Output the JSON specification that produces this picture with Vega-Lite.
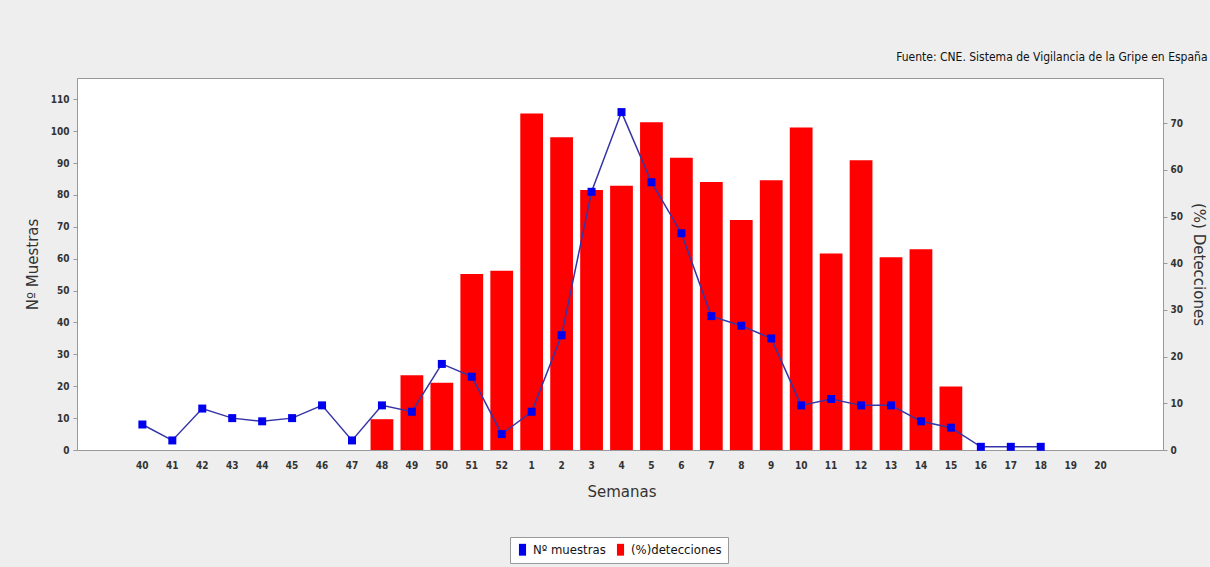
{
  "$schema": "https://vega.github.io/schema/vega-lite/v6.json",
  "width": 1086,
  "height": 372,
  "autosize": {"type": "none"},
  "padding": {"left": 77, "top": 78, "right": 47, "bottom": 117},
  "background": "#eeeeee",
  "title": {
    "text": "Fuente: CNE. Sistema de Vigilancia de la Gripe en España",
    "anchor": "end",
    "frame": "bounds",
    "dx": 2,
    "offset": 14,
    "fontSize": 12,
    "font": "DejaVu Sans Condensed",
    "fontWeight": "normal",
    "color": "#111111"
  },
  "config": {
    "view": {"stroke": "#999999", "fill": "white"},
    "axis": {
      "labelFont": "DejaVu Sans Condensed",
      "labelFontSize": 10,
      "labelFontWeight": "bold",
      "labelColor": "#333333",
      "titleFont": "DejaVu Sans",
      "titleFontSize": 15,
      "titleFontWeight": "normal",
      "titleColor": "#333333",
      "grid": false,
      "domain": false,
      "tickColor": "#999999",
      "tickSize": 4
    }
  },
  "data": {
    "values": [
      {"semana": "40", "muestras": 8, "detecciones": null},
      {"semana": "41", "muestras": 3, "detecciones": null},
      {"semana": "42", "muestras": 13, "detecciones": null},
      {"semana": "43", "muestras": 10, "detecciones": null},
      {"semana": "44", "muestras": 9, "detecciones": null},
      {"semana": "45", "muestras": 10, "detecciones": null},
      {"semana": "46", "muestras": 14, "detecciones": null},
      {"semana": "47", "muestras": 3, "detecciones": null},
      {"semana": "48", "muestras": 14, "detecciones": 6.6},
      {"semana": "49", "muestras": 12, "detecciones": 16.0},
      {"semana": "50", "muestras": 27, "detecciones": 14.4},
      {"semana": "51", "muestras": 23, "detecciones": 37.7},
      {"semana": "52", "muestras": 5, "detecciones": 38.4},
      {"semana": "1", "muestras": 12, "detecciones": 72.1},
      {"semana": "2", "muestras": 36, "detecciones": 67.0},
      {"semana": "3", "muestras": 81, "detecciones": 55.7},
      {"semana": "4", "muestras": 106, "detecciones": 56.6},
      {"semana": "5", "muestras": 84, "detecciones": 70.2},
      {"semana": "6", "muestras": 68, "detecciones": 62.6},
      {"semana": "7", "muestras": 42, "detecciones": 57.4},
      {"semana": "8", "muestras": 39, "detecciones": 49.3},
      {"semana": "9", "muestras": 35, "detecciones": 57.8},
      {"semana": "10", "muestras": 14, "detecciones": 69.1},
      {"semana": "11", "muestras": 16, "detecciones": 42.1},
      {"semana": "12", "muestras": 14, "detecciones": 62.1},
      {"semana": "13", "muestras": 14, "detecciones": 41.3},
      {"semana": "14", "muestras": 9, "detecciones": 43.0},
      {"semana": "15", "muestras": 7, "detecciones": 13.6},
      {"semana": "16", "muestras": 1, "detecciones": null},
      {"semana": "17", "muestras": 1, "detecciones": null},
      {"semana": "18", "muestras": 1, "detecciones": null},
      {"semana": "19", "muestras": null, "detecciones": null},
      {"semana": "20", "muestras": null, "detecciones": null}
    ]
  },
  "encoding": {
    "x": {
      "field": "semana",
      "type": "ordinal",
      "scale": {
        "type": "band",
        "domain": ["40","41","42","43","44","45","46","47","48","49","50","51","52","1","2","3","4","5","6","7","8","9","10","11","12","13","14","15","16","17","18","19","20"],
        "range": [54, 1035],
        "paddingInner": 0.24,
        "paddingOuter": 0
      },
      "axis": {"title": "Semanas", "labelAngle": 0, "ticks": false, "labelPadding": 10, "titlePadding": 14}
    }
  },
  "layer": [
    {
      "mark": {"type": "bar", "color": "#ff0000"},
      "encoding": {
        "y": {
          "field": "detecciones",
          "type": "quantitative",
          "scale": {"domain": [0, 79.7], "nice": false, "zero": true},
          "axis": {"orient": "right", "title": "(%) Detecciones", "values": [0,10,20,30,40,50,60,70], "titleAngle": 90, "labelPadding": 3, "titlePadding": 8}
        },
        "color": {
          "datum": "(%)detecciones",
          "type": "nominal",
          "scale": {"domain": ["Nº muestras", "(%)detecciones"], "range": ["#0000ee", "#ff0000"]},
          "legend": {
            "orient": "none",
            "legendX": 433,
            "legendY": 459,
            "direction": "horizontal",
            "title": null,
            "symbolType": "M-0.6,-1H0.6V1H-0.6Z",
            "symbolSize": 140,
            "symbolStrokeWidth": 0,
            "labelFont": "DejaVu Sans Condensed",
            "labelFontSize": 13,
            "labelColor": "#111111",
            "strokeColor": "#999999",
            "fillColor": "white",
            "padding": 6,
            "columnPadding": 8
          }
        }
      }
    },
    {
      "encoding": {
        "y": {
          "field": "muestras",
          "type": "quantitative",
          "scale": {"domain": [0, 116.7], "nice": false, "zero": true},
          "axis": {"orient": "left", "title": "Nº Muestras", "values": [0,10,20,30,40,50,60,70,80,90,100,110], "labelPadding": 4, "titlePadding": 10}
        }
      },
      "layer": [
        {"mark": {"type": "line", "color": "#3535a8", "strokeWidth": 1.5}, "encoding": {}},
        {
          "mark": {"type": "point", "shape": "square", "filled": true, "size": 64, "opacity": 1},
          "encoding": {"color": {"datum": "Nº muestras", "type": "nominal"}}
        }
      ]
    }
  ],
  "resolve": {"scale": {"y": "independent"}}
}
